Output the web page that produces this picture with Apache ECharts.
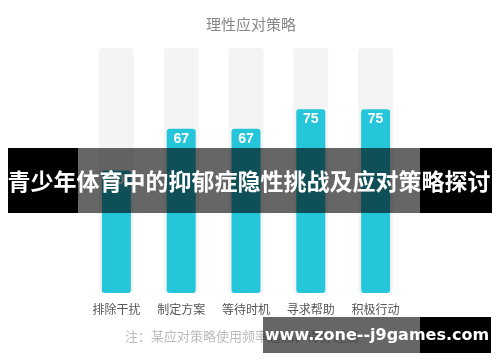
<!DOCTYPE html>
<html><head><meta charset="utf-8">
<script src="https://cdn.jsdelivr.net/npm/echarts@6/dist/echarts.min.js"></script>
<style>html,body{margin:0;padding:0;background:#fff}#c{width:500px;height:362px}</style>
</head><body><div id="c"></div>
<script>
var categories = ['排除干扰', '制定方案', '等待时机', '寻求帮助', '积极行动'];
var values = [50, 67, 67, 75, 75];
var maxValues = [100, 100, 100, 100, 100];
var titleText = '理性应对策略';
var noteText = '注：某应对策略使用频率越高，得分越高';
var bannerText = '青少年体育中的抑郁症隐性挑战及应对策略探讨';
var siteText = 'www.zone--j9games.com';

var font = '"Noto Sans CJK SC", "Noto Sans", sans-serif';
var chart = echarts.init(document.getElementById('c'));
chart.setOption({
  animation: false,
  title: {text: titleText, left: 246, top: 12, textAlign: 'center',
    textStyle: {fontSize: 15, fontWeight: 'normal', color: '#888', fontFamily: font}},
  grid: {left: 84, right: 92, top: 48, bottom: 69},
  xAxis: [
    {type: 'category', data: categories, axisLine: {show: false}, axisTick: {show: false},
     axisLabel: {color: '#555', fontSize: 12, margin: 10, fontFamily: font}},
    {type: 'category', data: categories, show: false}
  ],
  yAxis: {type: 'value', min: 0, max: 100, show: false},
  series: [
    {type: 'bar', xAxisIndex: 0, data: maxValues, barWidth: 35, silent: true,
     itemStyle: {color: '#f4f4f4', borderRadius: 4}, z: 1},
    {type: 'bar', xAxisIndex: 1, data: values, barWidth: 29,
     itemStyle: {color: '#26c6da', borderRadius: 3}, z: 2,
     label: {show: true, position: 'insideTop', distance: 3, color: '#fff', fontSize: 14,
       fontWeight: 'bold', fontFamily: 'Arial, "Liberation Sans", sans-serif'}}
  ],
  graphic: [
    {type: 'text', z: 10, style: {x: 125, y: 336, text: noteText, fill: '#bbb', fontSize: 13, fontFamily: font,
      align: 'left', verticalAlign: 'middle'}},
    {type: 'rect', shape: {x: 8, y: 148, width: 70, height: 65}, style: {fill: '#000'}, z: 100},
    {type: 'rect', shape: {x: 78, y: 148, width: 342, height: 65}, style: {fill: 'rgba(0,0,0,0.6)'}, z: 100},
    {type: 'rect', shape: {x: 420, y: 148, width: 72, height: 65}, style: {fill: '#000'}, z: 100},
    {type: 'text', z: 101, style: {x: 249, y: 181, text: bannerText, fill: '#fff', fontSize: 23, fontWeight: 'bold',
      fontFamily: font, align: 'center', verticalAlign: 'middle'}},
    {type: 'rect', shape: {x: 263, y: 317, width: 157, height: 36}, style: {fill: 'rgba(0,0,0,0.6)'}, z: 100},
    {type: 'rect', shape: {x: 420, y: 317, width: 71, height: 36}, style: {fill: '#000'}, z: 100},
    {type: 'text', z: 101, style: {x: 377, y: 336, text: siteText, fill: '#fff', fontSize: 16, fontWeight: 'bold',
      fontFamily: '"DejaVu Sans", sans-serif', align: 'center', verticalAlign: 'middle'}}
  ]
});
</script></body></html>
